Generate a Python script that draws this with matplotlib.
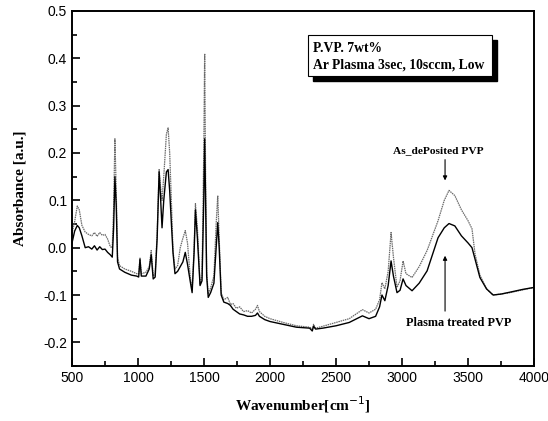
import numpy as np
import matplotlib
matplotlib.use("Agg")
import matplotlib.pyplot as plt
from matplotlib.patches import Rectangle
from matplotlib.ticker import MultipleLocator

plt.rcParams['axes.unicode_minus'] = False

# wavenumber grid (cm-1) and absorbance
wavenumber = [500, 520, 540, 555, 575, 600, 625, 650, 670, 690, 710, 730, 750, 770, 790,
              805, 815, 825, 835, 845, 860, 900, 950, 990, 1005, 1015, 1025, 1060, 1085,
              1100, 1115, 1130, 1145, 1160, 1170, 1182, 1195, 1215, 1228, 1240, 1255, 1265,
              1280, 1300, 1320, 1340, 1358, 1375, 1395, 1410, 1425, 1435, 1450, 1470, 1485,
              1498, 1505, 1512, 1520, 1532, 1550, 1575, 1592, 1604, 1615, 1630, 1650, 1680,
              1700, 1720, 1745, 1770, 1800, 1830, 1860, 1890, 1905, 1920, 1960, 2000, 2100,
              2200, 2300, 2320, 2330, 2345, 2400, 2500, 2600, 2700, 2750, 2800, 2830, 2848,
              2870, 2895, 2917, 2935, 2962, 2985, 3008, 3030, 3076, 3130, 3190, 3273, 3320,
              3356, 3400, 3450, 3500, 3530, 3553, 3590, 3640, 3690, 3750, 3818, 3917, 4000]

as_deposited = [0.030, 0.055, 0.088, 0.080, 0.047, 0.033, 0.028, 0.025, 0.032, 0.024, 0.032,
                0.026, 0.028, 0.018, 0.002, 0.000, 0.080, 0.230, 0.120, -0.020, -0.038,
                -0.045, -0.050, -0.055, -0.055, -0.022, -0.055, -0.052, -0.040, -0.006,
                -0.060, -0.055, 0.030, 0.165, 0.130, 0.100, 0.150, 0.240, 0.253, 0.200,
                0.080, -0.006, -0.045, -0.038, 0.000, 0.020, 0.036, 0.010, -0.060, -0.090,
                0.000, 0.093, 0.040, -0.077, -0.060, 0.200, 0.410, 0.150, -0.050, -0.098,
                -0.085, -0.060, 0.050, 0.110, 0.020, -0.095, -0.110, -0.105, -0.120, -0.118,
                -0.128, -0.125, -0.135, -0.133, -0.138, -0.130, -0.122, -0.135, -0.145,
                -0.150, -0.158, -0.165, -0.168, -0.172, -0.162, -0.170, -0.166, -0.158,
                -0.150, -0.131, -0.138, -0.130, -0.110, -0.074, -0.087, -0.050, 0.032,
                -0.020, -0.084, -0.070, -0.028, -0.055, -0.063, -0.040, -0.006, 0.057,
                0.100, 0.121, 0.110, 0.080, 0.057, 0.040, -0.013, -0.058, -0.087, -0.100,
                -0.098, -0.095, -0.089, -0.084]

plasma_treated = [0.010, 0.035, 0.047, 0.042, 0.025, 0.000, 0.002, -0.003, 0.004, -0.005,
                  0.002, -0.004, -0.003, -0.010, -0.015, -0.020, 0.040, 0.150, 0.090, -0.030,
                  -0.045, -0.052, -0.058, -0.060, -0.062, -0.025, -0.060, -0.060, -0.045,
                  -0.015, -0.066, -0.062, 0.020, 0.160, 0.110, 0.042, 0.100, 0.160, 0.165,
                  0.120, 0.040, -0.010, -0.055, -0.050, -0.040, -0.030, -0.010, -0.035,
                  -0.070, -0.095, -0.010, 0.080, 0.020, -0.080, -0.070, 0.100, 0.230, 0.100,
                  -0.060, -0.105, -0.095, -0.075, 0.000, 0.053, 0.000, -0.100, -0.115, -0.118,
                  -0.122, -0.130, -0.135, -0.140, -0.142, -0.145, -0.145, -0.143, -0.138,
                  -0.145, -0.152, -0.156, -0.162, -0.168, -0.170, -0.176, -0.166, -0.172,
                  -0.170, -0.165, -0.158, -0.144, -0.150, -0.145, -0.125, -0.100, -0.112,
                  -0.080, -0.028, -0.060, -0.095, -0.090, -0.066, -0.080, -0.091, -0.075,
                  -0.049, 0.021, 0.042, 0.051, 0.046, 0.025, 0.010, 0.000, -0.024, -0.063,
                  -0.087, -0.100, -0.098, -0.094, -0.088, -0.084]

serif_bold = dict(family='Liberation Serif', weight='bold')

fig = plt.figure(figsize=(5.48, 4.21), dpi=100)
ax = fig.add_axes([0.1314, 0.1306, 0.8431, 0.8433])

ax.plot(wavenumber, as_deposited, color='#6a6a6a', lw=0.9, ls=(0, (1.2, 0.6)))
ax.plot(wavenumber, plasma_treated, color='black', lw=1.0)

ax.set_xlim(500, 4000)
ax.set_ylim(-0.25, 0.5)
ax.xaxis.set_major_locator(MultipleLocator(500))
ax.xaxis.set_minor_locator(MultipleLocator(250))
ax.yaxis.set_major_locator(MultipleLocator(0.1))
ax.yaxis.set_minor_locator(MultipleLocator(0.05))
ax.tick_params(which='both', direction='in', width=1.2, labelsize=10)
ax.tick_params(which='major', length=6)
ax.tick_params(which='minor', length=3.5)
for lab in ax.get_xticklabels() + ax.get_yticklabels():
    lab.set_family('Liberation Sans')
for s in ax.spines.values():
    s.set_linewidth(1.4)

ax.set_xlabel('Wavenumber[cm$^{-1}$]', fontsize=11, labelpad=7, **serif_bold)
ax.set_ylabel('Absorbance [a.u.]', fontsize=11, labelpad=12, **serif_bold)

# legend-like box with shadow
ax.add_patch(Rectangle((0.522, 0.803), 0.398, 0.115, transform=ax.transAxes,
                       facecolor='black', edgecolor='black', zorder=4))
ax.add_patch(Rectangle((0.511, 0.817), 0.398, 0.115, transform=ax.transAxes,
                       facecolor='white', edgecolor='black', lw=0.8, zorder=5))
ax.text(0.521, 0.893, 'P.VP. 7wt%', transform=ax.transAxes, fontsize=9.8,
        va='center', zorder=6, **serif_bold)
ax.text(0.521, 0.848, 'Ar Plasma 3sec, 10sccm, Low', transform=ax.transAxes,
        fontsize=9.8, va='center', zorder=6, **serif_bold)

arrow = dict(arrowstyle='-|>', color='black', lw=0.8, mutation_scale=6,
             shrinkA=0, shrinkB=0)
ax.text(3273, 0.205, 'As_dePosited PVP', ha='center', va='center', fontsize=8.2, **serif_bold)
ax.annotate('', xy=(3326, 0.142), xytext=(3326, 0.186), arrowprops=arrow)
ax.text(3430, -0.159, 'Plasma treated PVP', ha='center', va='center', fontsize=8.8, **serif_bold)
ax.annotate('', xy=(3326, -0.017), xytext=(3326, -0.134), arrowprops=arrow)

fig.savefig('out.png', dpi=100)
